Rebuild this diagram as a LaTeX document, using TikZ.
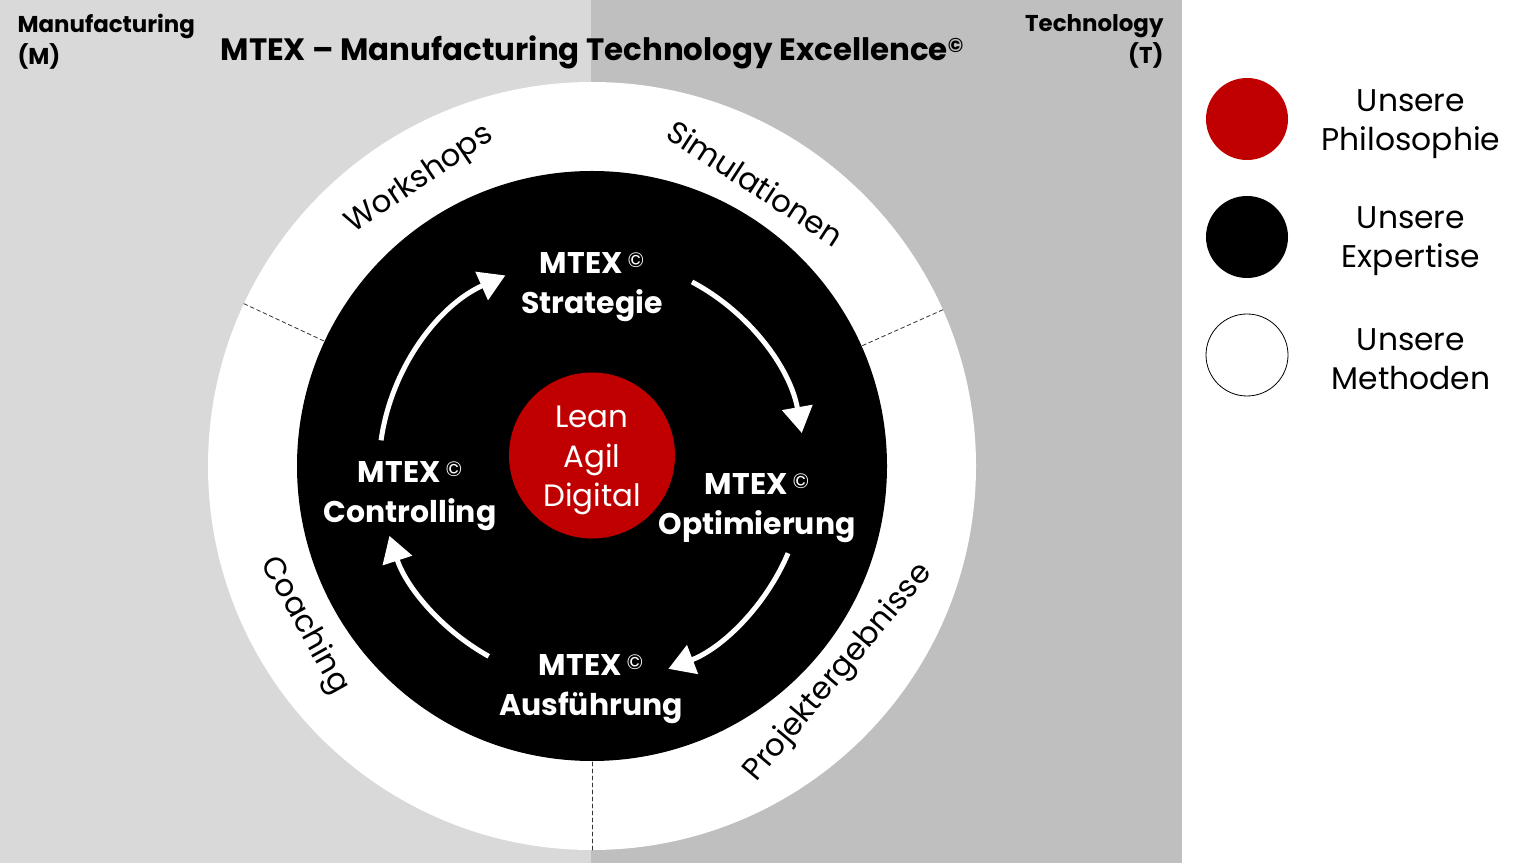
\documentclass[tikz,border=0pt]{standalone}
\usepackage{fontspec}
\setmainfont{Poppins}
\usetikzlibrary{arrows.meta,calc}
\definecolor{mtexred}{HTML}{C00000}
\definecolor{mgray}{HTML}{D9D9D9}
\definecolor{tgray}{HTML}{BFBFBF}
\newcommand{\mtexcopy}{{\mdseries\fontsize{21}{21}\selectfont\raisebox{6bp}{©}}}
\begin{document}
\begin{tikzpicture}[x=1bp, y=1bp, line join=round, line cap=round,
		ringlabel/.style={font=\fontsize{31}{31}\selectfont},
		phase/.style={text=white, align=center, font=\bfseries\fontsize{30}{40}\selectfont},
		cyclearrow/.style={white, line width=5bp, line cap=butt, -{Triangle[length=26bp,width=30bp]}},
		divider/.style={line width=0.8bp, black!80, dash pattern=on 4bp off 3bp},
		legendtext/.style={align=center, font=\fontsize{31.5}{39}\selectfont},
		corner/.style={font=\bfseries\fontsize{23}{32}\selectfont}]
	\useasboundingbox (0,0) rectangle (1535,863);
	% Hintergrund M / T
	\fill[mgray] (0,0) rectangle (591,863);
	\fill[tgray] (591,0) rectangle (1182,863);
	\node[corner, anchor=north west, align=left] (manu) at (14,852) {Manufacturing\\(M)};
	\node[corner, anchor=north east, align=right] (tech) at (1167,852) {Technology\\(T)};
	\node[font=\bfseries\fontsize{31}{31}\selectfont] (title) at (592,811) {MTEX -- Manufacturing Technology Excellence{\fontsize{20}{20}\selectfont\raisebox{8bp}{©}}};
	% Kreise
	\coordinate (c) at (592,397);
	\fill[white] (c) circle[radius=384];
	\fill[black] (c) circle[radius=295];
	\foreach \w in {155,24,270}{
		\draw[divider] ($(c)+(\w:296)$) -- ($(c)+(\w:384)$);}
	% Methoden
	\node[ringlabel, rotate=34] (workshops) at ($(c)+(121:334)$) {Workshops};
	\node[ringlabel, rotate=-33] (simul) at ($(c)+(60:327)$) {Simulationen};
	\node[ringlabel, rotate=50] (projekt) at ($(c)+(-40:322)$) {Projektergebnisse};
	\node[ringlabel, rotate=-61] (coaching) at ($(c)+(209:329)$) {Coaching};
	% Philosophie
	\node[circle, fill=mtexred, minimum size=166bp, inner sep=0pt] (philo) at (592,407.5) {};
	\node[text=white, align=center, font=\fontsize{31}{40}\selectfont] (lad) at (592,402.5) {Lean\\Agil\\Digital};
	% Expertise
	\node[phase] (strat) at (592,576) {MTEX\,\mtexcopy\\Strategie};
	\node[phase] (opt) at (757,355) {MTEX\,\mtexcopy\\Optimierung};
	\node[phase] (ausf) at (591,174) {MTEX\,\mtexcopy\\Ausführung};
	\node[phase] (contr) at (410,367) {MTEX\,\mtexcopy\\Controlling};
	\coordinate (ac) at (592,393);
	\foreach \s/\e in {172/114,62/10,-23/-69,241/198}{
		\draw[cyclearrow] ($(ac)+(\s:213)$) arc[start angle=\s, end angle=\e, radius=213];}
	% Legende
	\node[circle, fill=mtexred, minimum size=82bp] (lphilo) at (1247,744) {};
	\node[circle, fill=black, minimum size=82bp] (lexp) at (1247,626) {};
	\node[circle, draw=black, line width=0.8bp, fill=white, minimum size=82bp] (lmeth) at (1247,508) {};
	\node[legendtext] (tphilo) at (1411,739) {Unsere\\Philosophie};
	\node[legendtext] (texp) at (1411,622) {Unsere\\Expertise};
	\node[legendtext] (tmeth) at (1411,504) {Unsere\\Methoden};
\end{tikzpicture}
\end{document}
